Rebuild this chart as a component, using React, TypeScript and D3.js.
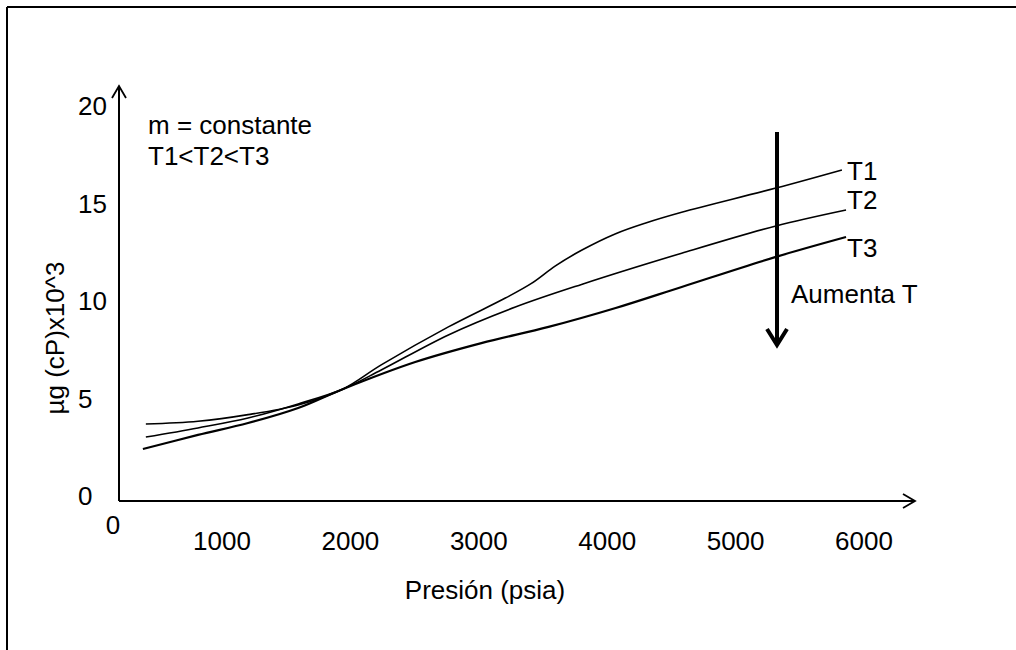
import React from "react";
import * as d3 from "d3";

// tick labels
const xTicks = [1000, 2000, 3000, 4000, 5000, 6000];
const yTicks = [0, 5, 10, 15, 20];

// curves (pressure in psia, viscosity cP x10^3)
const pressureT1 = [407, 813, 1203, 1593, 1944, 2240, 2763, 3207, 3410, 3597, 3800, 4066, 4300, 4580, 5314, 5828];
const muT1 = [3.64, 3.78, 4.12, 4.62, 5.44, 6.67, 8.62, 10.1, 10.85, 11.75, 12.55, 13.4, 13.95, 14.5, 15.74, 16.67];

const pressureT2 = [407, 813, 1203, 1593, 1944, 2240, 2763, 3285, 3800, 4580, 5314, 5860];
const muT2 = [2.97, 3.44, 3.95, 4.67, 5.44, 6.41, 8.21, 9.64, 10.8, 12.4, 13.8, 14.62];

const pressureT3 = [384, 813, 1203, 1593, 1944, 2505, 3020, 3543, 4066, 4580, 5314, 5860];
const muT3 = [2.36, 3.08, 3.69, 4.46, 5.44, 6.82, 7.79, 8.62, 9.59, 10.67, 12.21, 13.23];

const seriesNames = ["T1", "T2", "T3"];
const labelDy = [10, -1, 20];
const strokeWidths = [1.6, 1.6, 2.2];

const W = 1016;
const H = 650;
const font = "'Liberation Sans', Arial, sans-serif";
const fs = 26;

export default function App() {
  const x = d3.scaleLinear().domain([1000, 6000]).range([222, 864]);
  const y = d3.scaleLinear().domain([0, 20]).range([495, 105]);

  const x0 = 119; // axis origin
  const y0 = 501;
  const yTop = 86;
  const xRight = 915;

  const line = d3
    .line<[number, number]>()
    .x((d) => x(d[0]))
    .y((d) => y(d[1]))
    .curve(d3.curveCatmullRom.alpha(0.5));

  const series = [
    d3.zip(pressureT1, muT1) as [number, number][],
    d3.zip(pressureT2, muT2) as [number, number][],
    d3.zip(pressureT3, muT3) as [number, number][],
  ];

  // "Aumenta T" arrow position
  const arrowX = 777;
  const arrowTop = 132;
  const arrowBottom = 347;

  return (
    <svg
      width={W}
      height={H}
      style={{ position: "absolute", left: 0, top: 0, background: "#fff" }}
      fontFamily={font}
    >
      <rect width={W} height={H} fill="#fff" />
      {/* frame */}
      <line x1={7} y1={7} x2={W} y2={7} stroke="#000" strokeWidth={2} />
      <line x1={7} y1={7} x2={7} y2={H} stroke="#000" strokeWidth={2} />

      {/* axes */}
      <g stroke="#000" strokeWidth={2} fill="none">
        <line x1={x0} y1={y0} x2={x0} y2={yTop} />
        <polyline points={`${x0 - 7},${yTop + 12} ${x0},${yTop} ${x0 + 7},${yTop + 12}`} strokeWidth={1.8} />
        <line x1={x0} y1={y0} x2={xRight} y2={y0} />
        <polyline points={`${xRight - 12},${y0 - 7} ${xRight},${y0} ${xRight - 12},${y0 + 7}`} strokeWidth={1.8} />
      </g>

      {/* y tick labels */}
      {yTicks.map((t) => (
        <text key={t} x={78} y={y(t) + 10} fontSize={fs} fill="#000">
          {t}
        </text>
      ))}
      {/* x tick labels */}
      <text x={113} y={534} fontSize={fs} textAnchor="middle" fill="#000">
        0
      </text>
      {xTicks.map((t) => (
        <text key={t} x={x(t)} y={550} fontSize={fs} textAnchor="middle" fill="#000">
          {t}
        </text>
      ))}

      {/* axis titles */}
      <text x={485} y={599} fontSize={fs} textAnchor="middle" fill="#000">
        Presión (psia)
      </text>
      <text
        transform={`translate(64,338) rotate(-90)`}
        fontSize={fs}
        textAnchor="middle"
        fill="#000"
      >
        µg (cP)x10^3
      </text>

      {/* curves */}
      {series.map((s, i) => (
        <path key={seriesNames[i]} d={line(s) || ""} fill="none" stroke="#000" strokeWidth={strokeWidths[i]} />
      ))}
      {series.map((s, i) => {
        const last = s[s.length - 1];
        return (
          <text key={seriesNames[i]} x={847} y={y(last[1]) + labelDy[i]} fontSize={fs} fill="#000">
            {seriesNames[i]}
          </text>
        );
      })}

      {/* notes */}
      <text x={148} y={134} fontSize={fs} fill="#000">
        m = constante
      </text>
      <text x={148} y={165} fontSize={fs} fill="#000">
        T1&lt;T2&lt;T3
      </text>

      {/* Aumenta T arrow */}
      <g stroke="#000" strokeWidth={4} fill="none">
        <line x1={arrowX} y1={arrowTop} x2={arrowX} y2={arrowBottom - 2} />
        <polyline
          points={`${arrowX - 10},${arrowBottom - 18} ${arrowX},${arrowBottom - 2} ${arrowX + 10},${arrowBottom - 18}`}
          strokeLinejoin="miter"
        />
      </g>
      <text x={791} y={303} fontSize={fs} fill="#000">
        Aumenta T
      </text>
    </svg>
  );
}
